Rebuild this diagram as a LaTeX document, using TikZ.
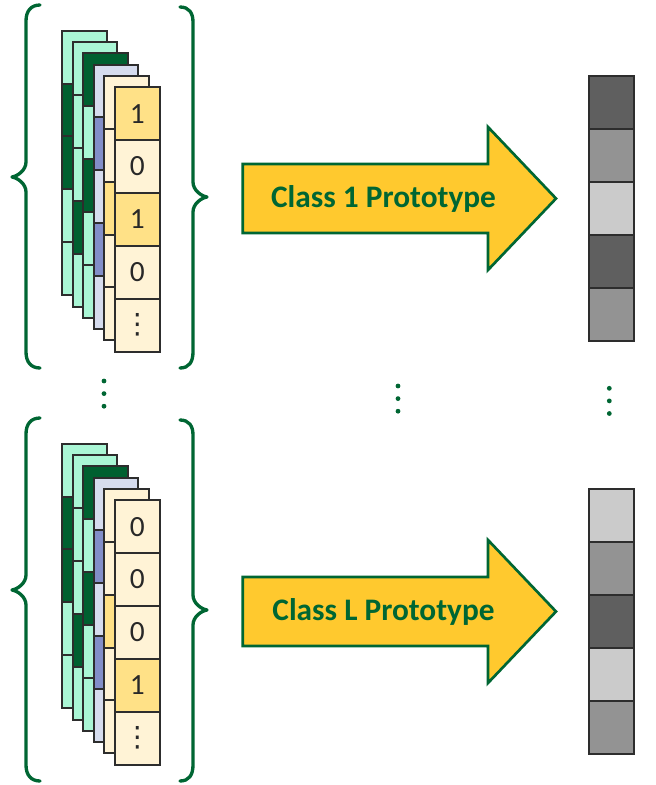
\documentclass[tikz,border=0pt]{standalone}
\usepackage{fontspec}
\setsansfont{Carlito}
\newfontfamily\symfont{DejaVu Sans}
\usepackage{tikz}
\usetikzlibrary{positioning}
\definecolor{pgGreen}{RGB}{0,102,51}
\definecolor{pgGold}{RGB}{255,201,46}
\definecolor{pgBorder}{RGB}{45,45,45}
\definecolor{pgText}{RGB}{40,40,40}
\definecolor{mintL}{RGB}{170,246,213}
\definecolor{mintD}{RGB}{0,96,48}
\definecolor{lavL}{RGB}{214,220,238}
\definecolor{lavD}{RGB}{130,142,200}
\definecolor{cream}{RGB}{255,243,214}
\definecolor{cellGold}{RGB}{255,225,135}
\definecolor{grayD}{RGB}{95,95,95}
\definecolor{grayM}{RGB}{147,147,147}
\definecolor{grayL}{RGB}{203,203,203}
\tikzset{
    base/.style={font=\sffamily, align=center},
    cell/.style={rectangle, draw=pgBorder, line width=1.5pt, inner sep=0pt,
                 minimum width=33.4pt, minimum height=39.7pt,
                 font=\sffamily\fontsize{22}{26}\selectfont, text=pgText},
    brace/.style={draw=pgGreen, line width=2.5pt, line cap=round, line join=round},
    protoarrow/.style={fill=pgGold, draw=pgGreen, line width=2pt},
    protolabel/.style={base, font=\sffamily\bfseries\fontsize{23.5}{28}\selectfont,
                       text=pgGreen, anchor=base},
    dot/.style={fill=pgGreen}
}
\newcommand{\cellvdots}{{\symfont\fontsize{21}{24}\selectfont ⋮}}
% #1 prefix, #2 vertical shift, #3 front bits, #4 prototype shades, #5 label
\newcommand{\classgroup}[5]{%
  \begin{scope}[shift={(0,#2)}]
    % stacked sheets, back to front
    \foreach \i/\fills in {0/{mintL,mintD,mintD,mintL,mintL}, 1/{mintL,mintL,mintL,mintD,mintL},
                           2/{mintD,mintL,mintD,mintL,mintL}, 3/{lavL,lavD,lavL,lavD,lavL},
                           4/{cream,cream,cellGold,cream,cream}}
      \foreach \f [count=\j] in \fills
        \node[cell, fill=\f] (#1s\i-\j) at ({84.3+\i*10.6}, {30.7+\i*11.3+(\j-0.5)*52.9}) {};
    % front sheet with the bits
    \foreach \f/\v [count=\j] in {#3}
      \node[cell, fill=\f] (#1b\j) at (137.3, {87.2+(\j-0.5)*52.9}) {\v};
    % braces
    \draw[brace] (40,5) .. controls (31,5) and (26,11) .. (26,21) -- (26,162)
      .. controls (26,170) and (18,176) .. (12,177) .. controls (18,178) and (26,184) .. (26,192)
      -- (26,352) .. controls (26,362) and (31,368) .. (40,368);
    \draw[brace] (180,7) .. controls (189,7) and (193,13) .. (193,22) -- (193,182)
      .. controls (193,190) and (201,196) .. (207,197) .. controls (201,198) and (193,204) .. (193,212)
      -- (193,352) .. controls (193,362) and (189,368) .. (180,368);
    % arrow
    \draw[protoarrow] (242.7,164) -- (488,164) -- (488,127) -- (556,198.5)
      -- (488,270) -- (488,233) -- (242.7,233) -- cycle;
    \node[protolabel] (#1label) at (383.5,207) {#5};
    % prototype vector
    \foreach \f [count=\j] in {#4}
      \node[cell, fill=\f] (#1p\j) at (611.5, {76+(\j-0.5)*53}) {};
  \end{scope}}

\begin{document}
\begin{tikzpicture}[x=0.75pt, y=-0.75pt]
  \useasboundingbox (0,0) rectangle (656,785);

  % class 1
  \classgroup{a}{0}{cellGold/1, cream/0, cellGold/1, cream/0, cream/\cellvdots}
    {grayD,grayM,grayL,grayD,grayM}{Class 1 Prototype}

  % dots between the rows
  \foreach \x/\y in {104/381, 398/386, 609.3/388.3}
    \foreach \k in {0,1,2}
      \fill[dot] (\x,{\y+\k*12.6}) circle (1.8pt);

  % class L
  \classgroup{b}{413}{cream/0, cream/0, cream/0, cellGold/1, cream/\cellvdots}
    {grayL,grayM,grayD,grayL,grayM}{Class L Prototype}
\end{tikzpicture}
\end{document}
